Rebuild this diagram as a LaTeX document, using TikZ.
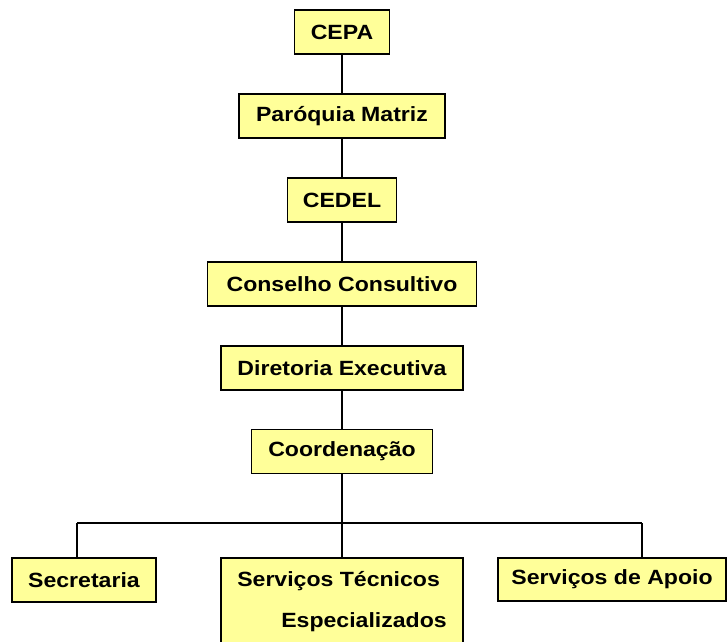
\documentclass[tikz,border=0pt]{standalone}
\usepackage{fontspec}
\setmainfont[FakeStretch=1.12]{Liberation Sans}
\usetikzlibrary{positioning}

\definecolor{boxyellow}{HTML}{FFFF99}

\begin{document}
\begin{tikzpicture}[x=1pt, y=-1pt,
		every node/.style={font=\fontsize{20.6}{24}\selectfont\bfseries},
		orgbox/.style={draw, fill=boxyellow, line width=1.6pt, inner sep=0pt, minimum height=44pt},
		link/.style={line width=1.6pt}]
				\useasboundingbox (0,0) rectangle (727,641);
				\node[orgbox, minimum width=95pt] (cepa) at (342,32) {CEPA};
				\node[orgbox, minimum width=206pt] (paroquia) at (342,116) {Paróquia Matriz};
				\node[orgbox, minimum width=109pt] (cedel) at (342,200) {CEDEL};
				\node[orgbox, minimum width=269pt] (conselho) at (342,284) {Conselho Consultivo};
				\node[orgbox, minimum width=242pt] (diretoria) at (342,368) {Diretoria Executiva};
				\node[orgbox, minimum width=181pt] (coord) at (342,451.5) {Coordenação};
				
				\node[orgbox, minimum width=144pt] (secretaria) at (84,580) {Secretaria};
				\node[orgbox, minimum width=242pt, minimum height=87pt, align=left] (tecnicos) at (342,601.5)
					{Serviços Técnicos\\[17pt]\hspace*{44pt}Especializados};
				\node[orgbox, minimum width=228pt, minimum height=43pt] (apoio) at (612,579.5) {Serviços de Apoio};
				
				\coordinate (busL) at (77,523);
				\coordinate (busR) at (642,523);
				
				\draw[link] (cepa) -- (paroquia);
				\draw[link] (paroquia) -- (cedel);
				\draw[link] (cedel) -- (conselho);
				\draw[link] (conselho) -- (diretoria);
				\draw[link] (diretoria) -- (coord);
				\draw[link] (coord) -- (tecnicos);
				\draw[link] (busL) -- (busR);
				\draw[link] (busL) -- (busL |- secretaria.north);
				\draw[link] (busR) -- (busR |- apoio.north);
			\end{tikzpicture}
\end{document}
